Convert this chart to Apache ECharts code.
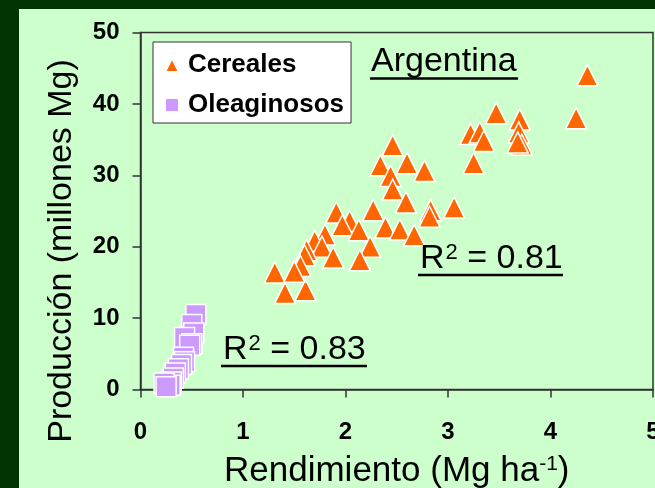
<!DOCTYPE html>
<html><head><meta charset="utf-8">
<script src="https://cdn.jsdelivr.net/npm/echarts@6/dist/echarts.min.js"></script>
<style>html,body{margin:0;padding:0;background:#003300;}#c{width:655px;height:488px;}</style>
</head><body><div id="c"></div>
<script>
// ---- data (Rendimiento Mg/ha, Producción millones Mg) ----
const seriesNames = ['Cereales', 'Oleaginosos'];
const cereales = [
  [4.36,44.0],[4.25,38.0],[3.47,38.7],[3.70,37.8],[3.69,36.0],[3.72,34.3],[3.68,34.6],
  [3.22,35.8],[3.31,36.0],[3.35,34.8],[3.25,31.7],[2.46,34.2],[2.34,31.4],[2.60,31.7],
  [2.77,30.6],[2.44,29.9],[2.46,28.0],[2.59,26.2],[2.83,25.1],[2.82,24.2],[3.06,25.5],
  [1.91,24.8],[2.27,25.1],[2.04,23.6],[1.97,23.0],[2.13,22.3],[2.39,22.7],[2.53,22.4],
  [2.67,21.6],[1.80,21.7],[1.70,20.8],[1.77,20.0],[2.24,20.0],[1.88,18.5],[2.14,18.1],
  [1.62,19.5],[1.60,18.8],[1.56,17.3],[1.31,16.4],[1.41,13.5],[1.61,13.9],[1.50,16.5]
];
const oleaginosos = [
  [0.54,10.5],[0.50,9.1],[0.52,7.9],[0.43,7.3],[0.50,6.4],[0.48,6.2],[0.42,4.5],
  [0.43,3.9],[0.40,3.5],[0.37,2.9],[0.34,2.3],[0.32,1.6],[0.30,1.05],[0.29,0.6],
  [0.23,0.9],[0.25,0.4]
];
const xAxisTitle = ['Rendimiento (Mg ha', '-1', ')'];
const yAxisTitle = 'Producción (millones Mg)';
const countryLabel = 'Argentina';
const r2Labels = ['0.81', '0.83'];

const F = '"Liberation Sans", Arial, sans-serif';
const chart = echarts.init(document.getElementById('c'), null, {renderer: 'canvas'});

function r2Text(x, y, val) {
  return {
    type: 'text', x: x, y: y, z: 10,
    style: {
      text: '{a|R}{s|2}{a| = ' + val + '}',
      textVerticalAlign: 'middle',
      rich: {
        a: {fontSize: 34, fontFamily: F, fill: '#000', lineHeight: 36},
        s: {fontSize: 22, fontFamily: F, fill: '#000', lineHeight: 36, verticalAlign: 'top', padding: [1, 0, 0, 1]}
      }
    }
  };
}
function uline(x1, x2, y) {
  return {type: 'line', z: 10, shape: {x1: x1, y1: y, x2: x2, y2: y}, style: {stroke: '#000', lineWidth: 2.5}};
}

const option = {
  backgroundColor: '#003300',
  animation: false,
  grid: {left: 140.5, right: 2, top: 32.5, bottom: 98.5, show: true, borderColor: '#333', borderWidth: 1.5,
         backgroundColor: 'transparent', containLabel: false, outerBoundsMode: 'none'},
  legend: {
    data: seriesNames,
    orient: 'vertical', left: 153, top: 42,
    backgroundColor: '#fff', borderColor: '#333', borderWidth: 1,
    padding: [8, 7, 3, 11], itemGap: 10, itemWidth: 14, itemHeight: 14,
    textStyle: {fontSize: 26, fontWeight: 'bold', fontFamily: F, color: '#000', lineHeight: 30, padding: [0, 0, 0, 4]}
  },
  graphic: [
    {type: 'rect', z: -100, silent: true, shape: {x: 19, y: 9, width: 636, height: 479}, style: {fill: '#CCFFCC'}},
    {type: 'text', x: 371, y: 61.5, z: 10, style: {text: countryLabel, font: '34px ' + F, fill: '#000', textVerticalAlign: 'middle'}},
    uline(370, 518, 78.5),
    r2Text(420, 259, r2Labels[0]),
    uline(418, 563, 275),
    r2Text(223, 349.5, r2Labels[1]),
    uline(221, 367, 366)
  ],
  xAxis: {
    type: 'value', min: 0, max: 5, interval: 1,
    axisLine: {show: true, onZero: false, lineStyle: {color: '#333', width: 1.5}},
    axisTick: {show: true, length: 8, lineStyle: {color: '#333', width: 1.5}},
    axisLabel: {margin: 31, fontSize: 24, fontWeight: 'bold', fontFamily: F, color: '#000'},
    splitLine: {show: false},
    name: '{n|' + xAxisTitle[0] + '}{s|' + xAxisTitle[1] + '}{n|' + xAxisTitle[2] + '}',
    nameLocation: 'middle', nameGap: 63,
    nameTextStyle: {
      rich: {
        n: {fontSize: 35, fontFamily: F, color: '#000', lineHeight: 38},
        s: {fontSize: 21, fontFamily: F, color: '#000', lineHeight: 38, verticalAlign: 'top', padding: [1, 0, 0, 0]}
      }
    }
  },
  yAxis: {
    type: 'value', min: 0, max: 50, interval: 10,
    axisLine: {show: true, onZero: false, lineStyle: {color: '#333', width: 1.5}},
    axisTick: {show: true, length: 8, lineStyle: {color: '#333', width: 1.5}},
    axisLabel: {margin: 21, fontSize: 24, fontWeight: 'bold', fontFamily: F, color: '#000'},
    splitLine: {show: false},
    name: yAxisTitle, nameLocation: 'middle', nameGap: 62,
    nameTextStyle: {fontSize: 34, fontFamily: F, color: '#000', padding: [0, 80, 0, 0]}
  },
  series: [
    {name: seriesNames[0], type: 'scatter', symbol: 'triangle', symbolSize: 21, data: cereales,
     itemStyle: {color: '#FF6600', borderColor: '#fff', borderWidth: 1.5, opacity: 1}},
    {name: seriesNames[1], type: 'scatter', symbol: 'rect', symbolSize: 20, data: oleaginosos,
     itemStyle: {color: '#CC99FF', borderColor: '#fff', borderWidth: 1.5, opacity: 1}}
  ]
};
chart.setOption(option);
</script></body></html>
